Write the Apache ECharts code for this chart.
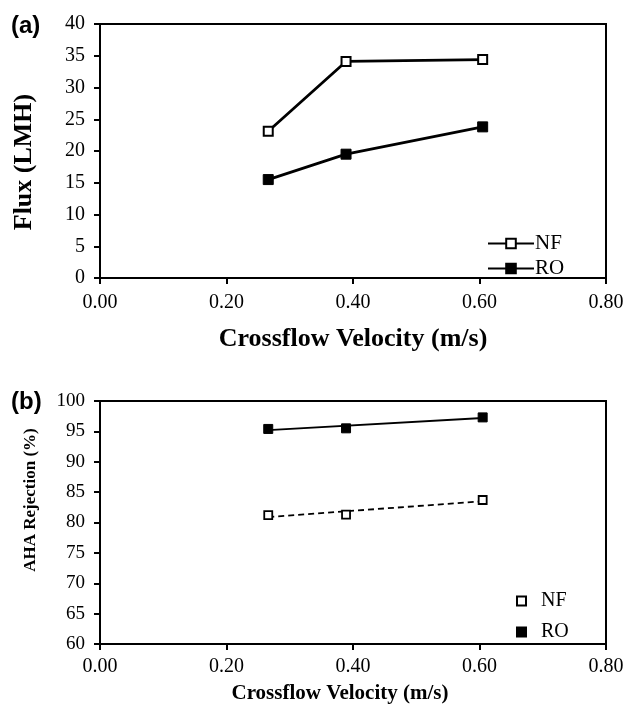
<!DOCTYPE html>
<html><head><meta charset="utf-8">
<script src="https://cdn.jsdelivr.net/npm/echarts@6/dist/echarts.min.js"></script>
<style>html,body{margin:0;padding:0;background:#fff}#c{width:626px;height:705px}</style>
</head><body><div id="c"></div>
<script>
// Panel (a) data
const velocityA = [0.266, 0.389, 0.605];
const fluxNF = [23.1, 34.1, 34.4];
const fluxRO = [15.5, 19.5, 23.8];
// Panel (b) data
const velocityB = [0.266, 0.389, 0.605];
const rejNF = [81.2, 81.3, 83.7];
const rejRO = [95.4, 95.5, 97.3];
// trendlines (end points)
const trendX = [0.266, 0.605];
const trendNF = [80.9, 83.5];
const trendRO = [95.2, 97.2];

const serif = '"Liberation Serif","Times New Roman",serif';
const pair = (xs, ys) => xs.map((x, i) => [x, ys[i]]);

const chart = echarts.init(document.getElementById('c'), null, {renderer: 'canvas'});
const axisLine = {show: true, lineStyle: {color: '#000', width: 2}};
const xAxisCommon = (idx, fs, margin, nameFs, nameGap, namePad) => ({
  gridIndex: idx, type: 'value', min: 0, max: 0.8, interval: 0.2,
  axisLine: axisLine, axisTick: {show: true, inside: false, length: 6, lineStyle: {color: '#000', width: 2}},
  splitLine: {show: false},
  axisLabel: {color: '#000', fontFamily: serif, fontSize: fs, margin: margin, formatter: v => v.toFixed(2)},
  name: 'Crossflow Velocity (m/s)', nameLocation: 'middle', nameGap: nameGap,
  nameTextStyle: {color: '#000', fontFamily: serif, fontWeight: 'bold', fontSize: nameFs, verticalAlign: 'top', padding: namePad}
});
const yAxisCommon = (idx, min, max, fs) => ({
  gridIndex: idx, type: 'value', min: min, max: max, interval: 5,
  axisLine: axisLine, axisTick: {show: true, inside: false, length: 6, lineStyle: {color: '#000', width: 2}},
  splitLine: {show: false},
  axisLabel: {color: '#000', fontFamily: serif, fontSize: fs, margin: 15}
});

chart.setOption({
  animation: false,
  backgroundColor: '#fff',
  grid: [
    {left: 100, top: 24, width: 506, height: 254, show: true, borderColor: '#000', borderWidth: 2, containLabel: false, outerBoundsMode: 'none'},
    {left: 100, top: 401, width: 506, height: 243, show: true, borderColor: '#000', borderWidth: 2, containLabel: false, outerBoundsMode: 'none'}
  ],
  xAxis: [xAxisCommon(0, 20, 15, 26, 48, [0, 0, 0, 0]), xAxisCommon(1, 20, 13, 21, 39, [0, 26, 0, 0])],
  yAxis: [yAxisCommon(0, 0, 40, 20), yAxisCommon(1, 60, 100, 19)],
  graphic: [
    {type: 'text', left: 11, top: 14, style: {text: '(a)', font: 'bold 24px "Liberation Sans", Arial, sans-serif', fill: '#000'}},
    {type: 'text', left: 11, top: 390, style: {text: '(b)', font: 'bold 24px "Liberation Sans", Arial, sans-serif', fill: '#000'}},
    {type: 'text', x: 24, y: 162, rotation: Math.PI / 2,
     style: {text: 'Flux (LMH)', font: 'bold 26px "Liberation Serif", serif', fill: '#000', align: 'center', verticalAlign: 'middle'}},
    {type: 'text', x: 31, y: 500, rotation: Math.PI / 2,
     style: {text: 'AHA Rejection (%)', font: 'bold 17px "Liberation Serif", serif', fill: '#000', align: 'center', verticalAlign: 'middle'}}
  ],
  legend: [
    {data: ['NF', 'RO'], left: 482, top: 228, orient: 'vertical', itemGap: 4, itemWidth: 46, itemHeight: 12,
     textStyle: {color: '#000', fontFamily: serif, fontSize: 21, padding: [0, 0, 0, -4]}},
    {data: ['NF ', 'RO '], left: 511, top: 586, orient: 'vertical', itemGap: 11, itemWidth: 9, itemHeight: 9,
     textStyle: {color: '#000', fontFamily: serif, fontSize: 20, padding: [0, 0, 0, 10]}}
  ],
  series: [
    {name: 'NF', type: 'line', xAxisIndex: 0, yAxisIndex: 0, data: pair(velocityA, fluxNF),
     symbol: 'rect', symbolSize: 9, lineStyle: {color: '#000', width: 2.8},
     itemStyle: {color: '#fff', borderColor: '#000', borderWidth: 2}},
    {name: 'RO', type: 'line', xAxisIndex: 0, yAxisIndex: 0, data: pair(velocityA, fluxRO),
     symbol: 'rect', symbolSize: 10, lineStyle: {color: '#000', width: 2.8},
     itemStyle: {color: '#000', borderColor: '#000', borderWidth: 1}},
    {name: 'NF trend', type: 'line', xAxisIndex: 1, yAxisIndex: 1, data: pair(trendX, trendNF),
     symbol: 'none', lineStyle: {color: '#000', width: 1.8, type: [6, 4]}},
    {name: 'RO trend', type: 'line', xAxisIndex: 1, yAxisIndex: 1, data: pair(trendX, trendRO),
     symbol: 'none', lineStyle: {color: '#000', width: 1.8}},
    {name: 'NF ', type: 'scatter', xAxisIndex: 1, yAxisIndex: 1, data: pair(velocityB, rejNF),
     symbol: 'rect', symbolSize: 8, itemStyle: {color: '#fff', borderColor: '#000', borderWidth: 1.8, opacity: 1}, z: 5},
    {name: 'RO ', type: 'scatter', xAxisIndex: 1, yAxisIndex: 1, data: pair(velocityB, rejRO),
     symbol: 'rect', symbolSize: 9, itemStyle: {color: '#000', borderColor: '#000', borderWidth: 1, opacity: 1}, z: 5}
  ]
});
</script></body></html>
